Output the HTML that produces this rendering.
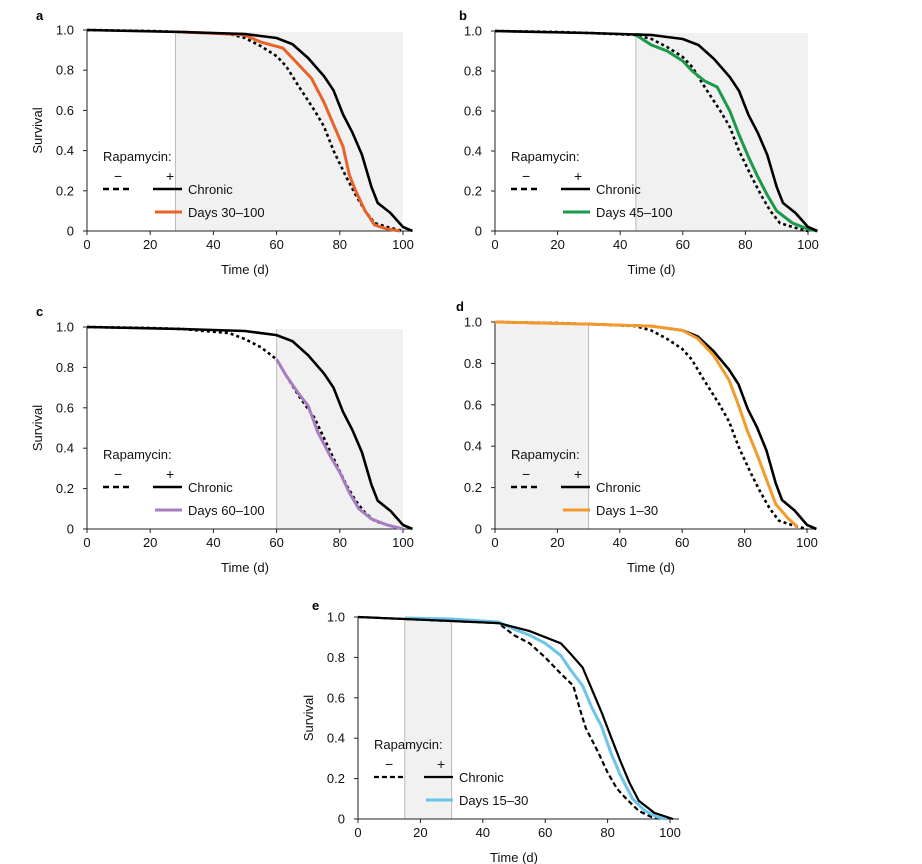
<!DOCTYPE html>
<html><head><meta charset="utf-8">
<style>
body{margin:0;background:#fff;}
svg{display:block;font-family:"Liberation Sans",Arial,sans-serif;}
</style></head>
<body>
<svg id="chart" width="922" height="864" viewBox="0 0 922 864"></svg>
<script>
const xTicks=[0,20,40,60,80,100];
const yTicks=[0,0.2,0.4,0.6,0.8,1.0];
const yTickLabels=["0","0.2","0.4","0.6","0.8","1.0"];
const controlDays=[0,20,30,45,50,55,60,63,67,72,75,78,82,85,88,91,95,100];
const controlSurv=[1,0.995,0.99,0.98,0.96,0.92,0.87,0.82,0.72,0.6,0.52,0.4,0.27,0.18,0.1,0.04,0.02,0];
const chronicDays=[0,30,50,55,60,65,70,75,78,81,84,87,90,92,96,100,103];
const chronicSurv=[1,0.99,0.98,0.97,0.96,0.93,0.86,0.77,0.7,0.58,0.49,0.38,0.22,0.14,0.09,0.02,0];
const aDays=[30,45,50,55,62,65,71,75,78,81,83,85,88,91,95,99];
const aSurv=[0.99,0.98,0.975,0.94,0.91,0.86,0.76,0.64,0.53,0.42,0.28,0.2,0.1,0.03,0.01,0];
const bDays=[45,50,55,60,63,67,71,75,78,81,84,87,90,95,100,103];
const bSurv=[0.98,0.93,0.9,0.85,0.8,0.75,0.72,0.6,0.48,0.37,0.27,0.18,0.1,0.04,0.01,0];
const cControlDays=[0,20,30,45,50,55,60,63,67,72,75,78,82,85,88,91,95,100];
const cControlSurv=[1,0.995,0.99,0.97,0.94,0.9,0.84,0.76,0.66,0.55,0.45,0.35,0.22,0.14,0.08,0.04,0.02,0];
const cDays=[60,63,67,70,73,77,80,83,86,90,95,100];
const cSurv=[0.84,0.76,0.67,0.61,0.48,0.36,0.28,0.18,0.1,0.05,0.02,0];
const dDays=[0,30,50,60,65,70,75,78,81,84,87,90,94,97];
const dSurv=[1,0.99,0.98,0.96,0.92,0.84,0.72,0.6,0.47,0.36,0.24,0.12,0.05,0.01];
const eControlDays=[0,45,50,55,60,65,69,71,73,77,80,83,86,90,94,98];
const eControlSurv=[1,0.97,0.91,0.87,0.8,0.72,0.66,0.55,0.45,0.33,0.23,0.15,0.1,0.04,0.01,0];
const eChronicDays=[0,30,45,50,55,60,65,68,72,75,78,81,84,87,90,95,101];
const eChronicSurv=[1,0.98,0.97,0.95,0.93,0.9,0.87,0.82,0.75,0.64,0.53,0.41,0.29,0.18,0.09,0.03,0];
const eDays=[15,30,45,50,55,60,65,68,72,75,78,81,84,88,92,96,99];
const eSurv=[0.995,0.99,0.975,0.94,0.91,0.87,0.81,0.74,0.66,0.55,0.46,0.33,0.22,0.1,0.04,0.01,0];

const svg=document.getElementById('chart');
const NS='http://www.w3.org/2000/svg';
function mk(tag,attrs,parent){const e=document.createElementNS(NS,tag);for(const k in attrs)e.setAttribute(k,attrs[k]);(parent||svg).appendChild(e);return e;}

const panels=[
 {id:'a',x0:87,x100:403,y1:30,y0:231,shade:[28,100],ylab:true,lx:36,ly:20,color:'#e8622a',label:'Days 30\u2013100',ctl:[controlDays,controlSurv],chr:[chronicDays,chronicSurv],tr:[aDays,aSurv]},
 {id:'b',x0:495,x100:808,y1:31,y0:231,shade:[45,100],ylab:false,lx:459,ly:20,color:'#1a9a4a',label:'Days 45\u2013100',ctl:[controlDays,controlSurv],chr:[chronicDays,chronicSurv],tr:[bDays,bSurv]},
 {id:'c',x0:87,x100:403,y1:327,y0:529,shade:[60,100],ylab:true,lx:36,ly:316,color:'#a77dc2',label:'Days 60\u2013100',ctl:[cControlDays,cControlSurv],chr:[chronicDays,chronicSurv],tr:[cDays,cSurv]},
 {id:'d',x0:495,x100:807,y1:322,y0:529,shade:[0,30],ylab:false,lx:456,ly:311,color:'#f39a2a',label:'Days 1\u201330',ctl:[controlDays,controlSurv],chr:[chronicDays,chronicSurv],tr:[dDays,dSurv],trOnTop:true},
 {id:'e',x0:358,x100:670,y1:617,y0:819,shade:[15,30],ylab:true,lx:312,ly:610,color:'#6cc4e8',label:'Days 15\u201330',ctl:[eControlDays,eControlSurv],chr:[eChronicDays,eChronicSurv],tr:[eDays,eSurv],thin:true}
];

panels.forEach(p=>{
  const g=mk('g',{});
  
  
  const X=d=>p.x0+(p.x100-p.x0)*d/100;
  const Y=s=>p.y0+(p.y1-p.y0)*s;
  const sh=mk('rect',{x:X(p.shade[0]),y:Y(0.99),width:X(p.shade[1])-X(p.shade[0]),height:p.y0-Y(0.99),fill:'#f1f1f1'},g);
  
  
  [p.shade[0],p.shade[1]].forEach(v=>{ if(v>0&&v<100){const l=mk('line',{x1:X(v),x2:X(v),y1:Y(0.99),y2:p.y0,stroke:'#bbb','stroke-width':1},g);}});
  const lt=mk('text',{x:p.lx,y:p.ly,'font-size':13,'font-weight':'bold',fill:'#000'},g);
  lt.textContent=p.id;
  
  
  const ax=mk('path',{d:`M${p.x0} ${Y(1)} V${p.y0} H${p.x100+9}`,stroke:'#222',fill:'none','stroke-width':1},g);
  
  
  xTicks.forEach(t=>{
    mk('line',{x1:X(t),x2:X(t),y1:p.y0,y2:p.y0+4,stroke:'#222'},g);
    const tx=mk('text',{x:X(t),y:p.y0+18,'font-size':13,'text-anchor':'middle',fill:'#111'},g);
    tx.textContent=t;
    
    
  });
  yTicks.forEach((t,i)=>{
    mk('line',{x1:p.x0-4,x2:p.x0,y1:Y(t),y2:Y(t),stroke:'#222'},g);
    const ty=mk('text',{x:p.x0-13,y:Y(t)+4.5,'font-size':13,'text-anchor':'end',fill:'#111'},g);
    ty.textContent=yTickLabels[i];
    
    
  });
  const xt=mk('text',{x:(p.x0+p.x100)/2,y:p.y0+43,'font-size':13,'text-anchor':'middle',fill:'#111'},g);
  xt.textContent='Time (d)';
  
  
  if(p.ylab){
    const yt=mk('text',{x:0,y:0,'font-size':13,'text-anchor':'middle',fill:'#111',transform:`translate(${p.x0-45},${(p.y0+p.y1)/2}) rotate(-90)`},g);
    yt.textContent='Survival';
    
    
  }
  const pathOf=(ds,ss)=>ds.map((d,i)=>(i?'L':'M')+X(d).toFixed(1)+' '+Y(ss[i]).toFixed(1)).join(' ');
  const w=p.thin?2.2:2.6;
  const c1=mk('path',{d:pathOf(p.ctl[0],p.ctl[1]),stroke:'#000',fill:'none','stroke-width':w,'stroke-dasharray':p.thin?'5,3':'3,3'},g);
  
  
  const drawTr=()=>{const t=mk('path',{d:pathOf(p.tr[0],p.tr[1]),stroke:p.color,fill:'none','stroke-width':3},g);};
  if(!p.trOnTop)drawTr();
  const c2=mk('path',{d:pathOf(p.chr[0],p.chr[1]),stroke:'#000',fill:'none','stroke-width':w},g);
  
  
  if(p.trOnTop)drawTr();
  const lx=p.x0+16, ly=p.y0;
  const lg=mk('g',{},g);
  
  
  const tt=mk('text',{x:lx,y:ly-70,'font-size':13,fill:'#111'},lg);tt.textContent='Rapamycin:';
  const mi=mk('text',{x:lx+11,y:ly-50,'font-size':14,fill:'#111'},lg);mi.textContent='\u2212';
  const pl=mk('text',{x:lx+63,y:ly-50,'font-size':14,fill:'#111'},lg);pl.textContent='+';
  mk('line',{x1:lx,x2:lx+30,y1:ly-42,y2:ly-42,stroke:'#000','stroke-width':w,'stroke-dasharray':p.thin?'5,3':'6,4'},lg);
  mk('line',{x1:lx+50,x2:lx+79,y1:ly-42,y2:ly-42,stroke:'#000','stroke-width':w},lg);
  const ch=mk('text',{x:lx+85,y:ly-37,'font-size':13,fill:'#111'},lg);ch.textContent='Chronic';
  mk('line',{x1:lx+52,x2:lx+79,y1:ly-19,y2:ly-19,stroke:p.color,'stroke-width':3},lg);
  const dl=mk('text',{x:lx+85,y:ly-14,'font-size':13,fill:'#111'},lg);dl.textContent=p.label;
});
</script>
</body></html>
